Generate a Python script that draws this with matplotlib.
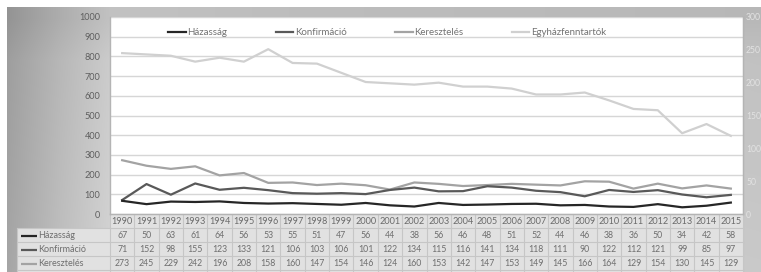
import matplotlib
matplotlib.use('Agg')
import matplotlib.pyplot as plt
import numpy as np
from matplotlib.lines import Line2D
from matplotlib.patches import Rectangle

# ---------------- data ----------------
years = [str(y) for y in range(1990, 2016)]
hazassag = [67, 50, 63, 61, 64, 56, 53, 55, 51, 47, 56, 44, 38, 56, 46, 48, 51, 52, 44, 46, 38, 36, 50, 34, 42, 58]
konfirmacio = [71, 152, 98, 155, 123, 133, 121, 106, 103, 106, 101, 122, 134, 115, 116, 141, 134, 118, 111, 90, 122, 112, 121, 99, 85, 97]
kereszteles = [273, 245, 229, 242, 196, 208, 158, 160, 147, 154, 146, 124, 160, 153, 142, 147, 153, 149, 145, 166, 164, 129, 154, 130, 145, 129]
# secondary axis series (its table row lies below the visible image)
egyhazfenntartok = [245, 243, 241, 232, 238, 232, 251, 230, 229, 215, 201, 199, 197, 200, 194, 194, 191, 182, 182, 185, 173, 160, 158, 123, 137, 119]

series_names = ['Házasság', 'Konfirmáció', 'Keresztelés', 'Egyházfenntartók']
series_colors = ['#262626', '#595959', '#a3a3a3', '#d0d0d0']
left_ticks = list(range(0, 1001, 100))
right_ticks = list(range(0, 301, 50))

plt.rcParams['font.family'] = ['Lato', 'DejaVu Sans']

W, H = 761, 272
fig = plt.figure(figsize=(W / 100, H / 100), dpi=100)
fig.patch.set_facecolor('white')

# ---------------- background (pixel coordinates) ----------------
bg = fig.add_axes([0, 0, 1, 1])
bg.set_xlim(0, W)
bg.set_ylim(H, 0)
bg.axis('off')
cols = np.arange(7, W)
vals = np.interp(cols, [7, 60, 110, 300, W], [0.62, 0.72, 0.80, 0.78, 0.76])
rows = np.arange(7, H)
vrow = np.interp(rows, [7, 18, 60, H], [-0.04, -0.04, 0.0, 0.03])
grad = np.clip(vals[None, :] + vrow[:, None], 0, 1)
img = np.dstack([grad, grad, grad])
bg.imshow(img, extent=(7, W, H, 7), aspect='auto', interpolation='bilinear', zorder=0)

plot_left, plot_right, plot_top, plot_bottom = 110, 743, 17, 214
pw = plot_right - plot_left
ph = plot_bottom - plot_top
n = len(years)
cw = pw / n

# ---------------- data table ----------------
row_h = 14.0
cell_fc = '#e1e1e1'
line_c = '#c6c6c6'
txt_c = '#6e6e6e'
table_rows = [hazassag, konfirmacio, kereszteles, egyhazfenntartok]

bg.add_patch(Rectangle((plot_left, plot_bottom), pw, row_h, facecolor=cell_fc, edgecolor='none', zorder=1))
body_top = plot_bottom + row_h
bg.add_patch(Rectangle((17, body_top), plot_right - 17, row_h * len(table_rows), facecolor=cell_fc,
                       edgecolor='none', zorder=1))
for i in range(n + 1):
    xx = plot_left + i * cw
    bg.plot([xx, xx], [plot_bottom, H + 40], color=line_c, lw=0.8, zorder=2)
bg.plot([17, 17], [body_top, H + 40], color=line_c, lw=0.8, zorder=2)
bg.plot([plot_left, plot_right], [plot_bottom, plot_bottom], color=line_c, lw=0.8, zorder=2)
for r in range(len(table_rows) + 1):
    yy = body_top + r * row_h
    bg.plot([17, plot_right], [yy, yy], color=line_c, lw=0.8, zorder=2)

for i, yr in enumerate(years):
    bg.text(plot_left + (i + 0.5) * cw, plot_bottom + row_h / 2 + 0.5, yr, ha='center', va='center',
            fontsize=6.6, color='#6a6a6a', zorder=3)
for r, (name, col, data) in enumerate(zip(series_names, series_colors, table_rows)):
    yc = body_top + (r + 0.5) * row_h + 0.5
    if yc + 4 > H:
        continue  # row lies below the visible picture
    bg.plot([21, 37], [yc, yc], color=col, lw=1.6, zorder=3, solid_capstyle='butt')
    bg.text(38, yc, name, ha='left', va='center', fontsize=6.5, color=txt_c, zorder=3)
    for i, v in enumerate(data):
        bg.text(plot_left + (i + 0.5) * cw, yc, str(v), ha='center', va='center',
                fontsize=6.3, color=txt_c, zorder=3)

# ---------------- main chart ----------------
ax = fig.add_axes([plot_left / W, (H - plot_bottom) / H, pw / W, ph / H])
ax.set_facecolor('white')
x = np.arange(n)
ax.plot(x, hazassag, color=series_colors[0], lw=1.6, zorder=4)
ax.plot(x, konfirmacio, color=series_colors[1], lw=1.6, zorder=3)
ax.plot(x, kereszteles, color=series_colors[2], lw=1.6, zorder=2)
ax.set_xlim(-0.5, n - 0.5)
ax.set_ylim(0, 1000)
ax.set_yticks(left_ticks)
ax.set_xticks([])
ax.yaxis.grid(True, color='#d6d6d6', lw=1.0)
ax.set_axisbelow(True)
ax.tick_params(axis='y', length=0, pad=7, labelsize=6.6, labelcolor='#5e5e5e')
ax.spines['top'].set_visible(False)
for s in ['left', 'right', 'bottom']:
    ax.spines[s].set_color('#b4b4b4')
    ax.spines[s].set_linewidth(1.0)

ax2 = ax.twinx()
ax2.plot(x, egyhazfenntartok, color=series_colors[3], lw=1.6)
ax2.set_ylim(0, 300)
ax2.set_yticks(right_ticks)
ax2.tick_params(axis='y', length=0, pad=2.2, labelsize=6.2, labelcolor='#e2e2e2')
for s in ['top', 'left', 'bottom']:
    ax2.spines[s].set_visible(False)
ax2.spines['right'].set_color('#b4b4b4')

handles = [Line2D([0], [0], color=c, lw=1.6) for c in series_colors]
leg = ax.legend(handles, series_names, loc='center', bbox_to_anchor=(0.438, 0.919), ncol=4,
                frameon=False, fontsize=7, handlelength=1.8, handletextpad=0.15,
                columnspacing=5.0, labelcolor='#727272')
leg.set_zorder(10)

fig.savefig('out.png', dpi=100)
